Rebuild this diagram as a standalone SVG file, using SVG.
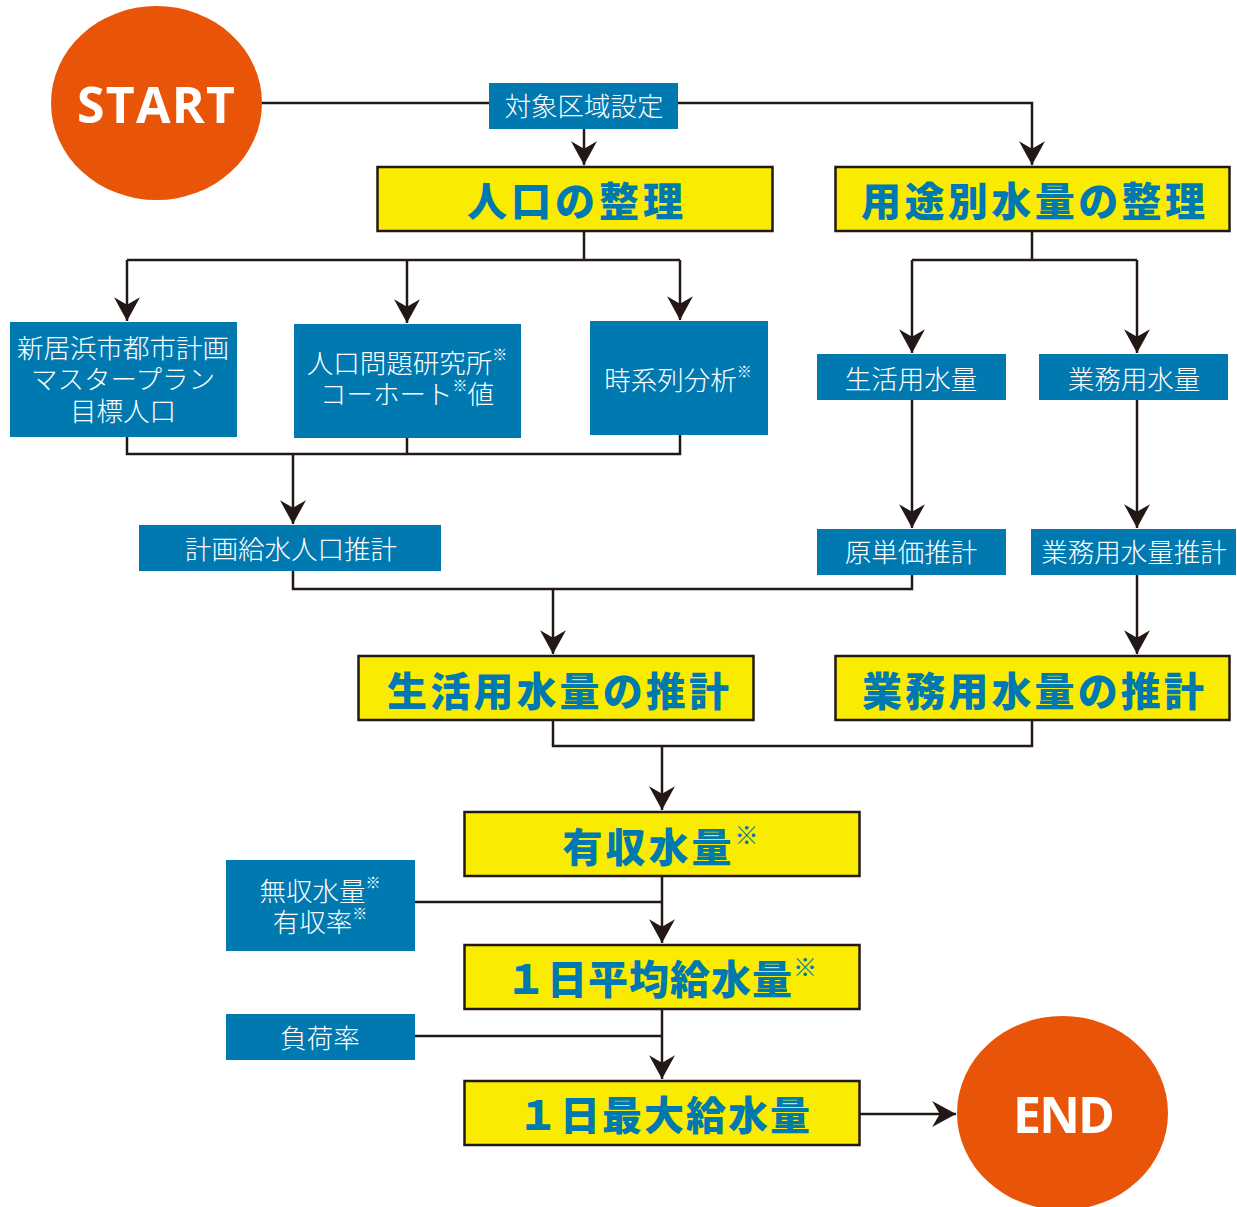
<svg xmlns="http://www.w3.org/2000/svg" width="1237" height="1207" viewBox="0 0 1237 1207">
<defs>
<marker id="arr" markerUnits="userSpaceOnUse" markerWidth="26" markerHeight="26" refX="22" refY="12" orient="auto" viewBox="0 0 24 24">
<path d="M0,0 L22,12 L0,24 L7,12 Z" fill="#231815"/>
</marker>
<style>
.ln{fill:none;stroke:#231815;stroke-width:2.5}
.blue{fill:#0079B0}
.yel{fill:#F9EC00;stroke:#231815;stroke-width:2.5}
.oval{fill:#E95508}
.wt{font-family:"Noto Sans CJK JP","Noto Sans",sans-serif;font-size:26.5px;font-weight:300;fill:#fff;text-anchor:middle;dominant-baseline:central}
.bt{font-family:"Noto Sans CJK JP","Noto Sans",sans-serif;font-size:40px;font-weight:900;fill:#0079B0;text-anchor:middle;dominant-baseline:central}
.sm{font-size:15px}
.smb{font-size:24px;font-weight:400}
.ot{font-family:"Open Sans","Liberation Sans",sans-serif;font-weight:700;font-size:50px;fill:#fff;text-anchor:middle;dominant-baseline:central}
</style>
</defs>
<rect width="1237" height="1207" fill="#fff"/>
<g id="connectors">
<path class="ln" d="M262,103 H1032 V165" marker-end="url(#arr)"/>
<path class="ln" d="M584,128 V165" marker-end="url(#arr)"/>
<path class="ln" d="M584,232 V260 M127,260 H680"/>
<path class="ln" d="M127,260 V321" marker-end="url(#arr)"/>
<path class="ln" d="M407,260 V323" marker-end="url(#arr)"/>
<path class="ln" d="M680,260 V320" marker-end="url(#arr)"/>
<path class="ln" d="M127,437 V454 H680 V435 M407,437 V454"/>
<path class="ln" d="M293,454 V524" marker-end="url(#arr)"/>
<path class="ln" d="M293,571 V589 H912 V575"/>
<path class="ln" d="M553,589 V654" marker-end="url(#arr)"/>
<path class="ln" d="M1032,232 V260 M912,260 H1137"/>
<path class="ln" d="M912,260 V353" marker-end="url(#arr)"/>
<path class="ln" d="M1137,260 V353" marker-end="url(#arr)"/>
<path class="ln" d="M912,399 V528" marker-end="url(#arr)"/>
<path class="ln" d="M1137,399 V528" marker-end="url(#arr)"/>
<path class="ln" d="M1137,575 V654" marker-end="url(#arr)"/>
<path class="ln" d="M553,720 V746 H1032 V720"/>
<path class="ln" d="M662,746 V810" marker-end="url(#arr)"/>
<path class="ln" d="M414,902 H662"/>
<path class="ln" d="M662,876 V943" marker-end="url(#arr)"/>
<path class="ln" d="M414,1036 H662"/>
<path class="ln" d="M662,1009 V1079" marker-end="url(#arr)"/>
<path class="ln" d="M860,1114 H956" marker-end="url(#arr)"/>
</g>
<g id="start">
<ellipse class="oval" cx="156.5" cy="103" rx="105.5" ry="97"/>
<text class="ot" x="156" y="104" textLength="158" lengthAdjust="spacing">START</text>
</g>
<g id="taisho">
<rect class="blue" x="489" y="83" width="189" height="46"/>
<text class="wt" x="584" y="104">対象区域設定</text>
</g>
<g id="jinko-seiri">
<rect class="yel" x="377.5" y="167" width="395" height="64"/>
<text class="bt" x="575" y="199" textLength="216" lengthAdjust="spacing">人口の整理</text>
</g>
<g id="yoto-seiri">
<rect class="yel" x="835.5" y="167" width="394" height="64"/>
<text class="bt" x="1033" y="199" textLength="344" lengthAdjust="spacing">用途別水量の整理</text>
</g>
<g id="niihama">
<rect class="blue" x="10" y="322" width="227" height="115"/>
<text class="wt" x="123" y="346">新居浜市都市計画</text>
<text class="wt" x="123" y="377">マスタープラン</text>
<text class="wt" x="123" y="409">目標人口</text>
</g>
<g id="jinko-mondai">
<rect class="blue" x="294" y="324" width="227" height="114"/>
<text class="wt" x="407" y="361">人口問題研究所<tspan class="sm" dy="-8">※</tspan></text>
<text class="wt" x="407" y="392">コーホート<tspan class="sm" dy="-8">※</tspan><tspan dy="8">値</tspan></text>
</g>
<g id="jikeiretsu">
<rect class="blue" x="590" y="321" width="178" height="114"/>
<text class="wt" x="678" y="378">時系列分析<tspan class="sm" dy="-8">※</tspan></text>
</g>
<g id="seikatsu">
<rect class="blue" x="817" y="354" width="189" height="46"/>
<text class="wt" x="911" y="377">生活用水量</text>
</g>
<g id="gyomu">
<rect class="blue" x="1039" y="354" width="189" height="46"/>
<text class="wt" x="1134" y="377">業務用水量</text>
</g>
<g id="keikaku">
<rect class="blue" x="139" y="525" width="302" height="46"/>
<text class="wt" x="291" y="547">計画給水人口推計</text>
</g>
<g id="gentanka">
<rect class="blue" x="817" y="529" width="189" height="46"/>
<text class="wt" x="911" y="550">原単価推計</text>
</g>
<g id="gyomu-suikei">
<rect class="blue" x="1031" y="529" width="205" height="46"/>
<text class="wt" x="1134" y="550">業務用水量推計</text>
</g>
<g id="seikatsu-suikei">
<rect class="yel" x="358.5" y="656" width="395" height="64"/>
<text class="bt" x="558" y="689" textLength="342" lengthAdjust="spacing">生活用水量の推計</text>
</g>
<g id="gyomu-suikei2">
<rect class="yel" x="835.5" y="656" width="394" height="64"/>
<text class="bt" x="1033" y="689" textLength="342" lengthAdjust="spacing">業務用水量の推計</text>
</g>
<g id="yushu">
<rect class="yel" x="464.5" y="812" width="395" height="64"/>
<text class="bt" x="662" y="845" letter-spacing="3">有収水量<tspan class="smb" dy="-12">※</tspan></text>
</g>
<g id="mushu">
<rect class="blue" x="226" y="860" width="189" height="91"/>
<text class="wt" x="320" y="889">無収水量<tspan class="sm" dy="-8">※</tspan></text>
<text class="wt" x="320" y="920">有収率<tspan class="sm" dy="-8">※</tspan></text>
</g>
<g id="heikin">
<rect class="yel" x="464.5" y="945" width="395" height="64"/>
<text class="bt" x="662" y="977" letter-spacing="1">１日平均給水量<tspan class="smb" dy="-12">※</tspan></text>
</g>
<g id="fuka">
<rect class="blue" x="226" y="1014" width="189" height="46"/>
<text class="wt" x="320" y="1036">負荷率</text>
</g>
<g id="saidai">
<rect class="yel" x="464.5" y="1081" width="395" height="64"/>
<text class="bt" x="664" y="1113" textLength="292" lengthAdjust="spacing">１日最大給水量</text>
</g>
<g id="end">
<ellipse class="oval" cx="1062.5" cy="1113" rx="105.5" ry="97"/>
<text class="ot" x="1064" y="1114" textLength="102" lengthAdjust="spacing">END</text>
</g>
</svg>
